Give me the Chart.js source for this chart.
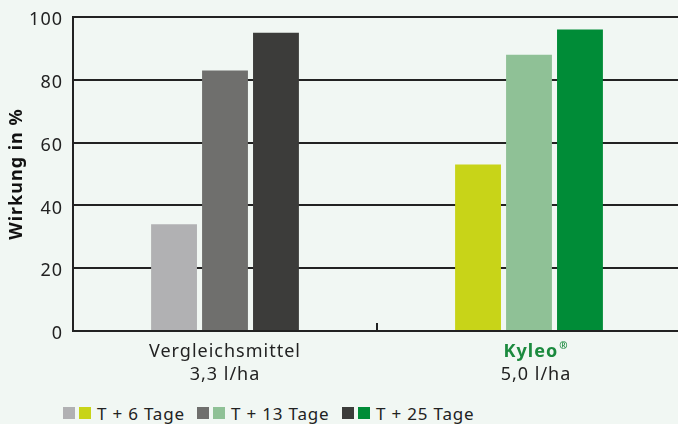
<!DOCTYPE html>
<html lang="de">
<head>
    <meta charset="UTF-8">
    <title>Wirkung in %</title>
    <script src="https://cdn.jsdelivr.net/npm/chart.js"></script>
    <style>
        html, body {
            margin: 0;
            padding: 0;
            width: 678px;
            height: 424px;
            overflow: hidden;
            background-color: #f1f7f3;
            font-family: 'Noto Sans', sans-serif;
        }
        .wrap {
            position: relative;
            width: 678px;
            height: 424px;
            overflow: hidden;
        }
        canvas {
            position: absolute;
            left: 0;
            top: 0;
        }
        .legend .item {
            position: absolute;
            top: 401px;
            height: 24px;
            display: flex;
            align-items: center;
            font-size: 17px;
            letter-spacing: 0.8px;
            color: #222;
            white-space: nowrap;
        }
        .legend .box {
            width: 12px;
            height: 12px;
            margin-right: 4px;
        }
        .legend .box + .box {
            margin-right: 6px;
        }
    </style>
</head>
<body>
<div class="wrap">
    <canvas id="chart" width="681" height="396"></canvas>
    <div class="legend" id="legend"></div>
</div>
<script>
    // Daten
    const categories = [['Vergleichsmittel', '3,3 l/ha'], ['Kyleo', '5,0 l/ha']];
    const seriesNames = ['T + 6 Tage', 'T + 13 Tage', 'T + 25 Tage'];
    const t6 = [34, 53];
    const t13 = [83, 88];
    const t25 = [95, 96];
    const yTicks = [0, 20, 40, 60, 80, 100];

    const greys = ['#b1b1b3', '#6f6f6d', '#3c3c3a'];
    const greens = ['#c8d418', '#8fc196', '#008c37'];
    const labelGreen = '#1b8a3e';
    const legendLeft = [63, 197, 342];

    const values = [t6, t13, t25];

    const spacing = {
        id: 'spacing',
        beforeDraw(chart) { chart.ctx.letterSpacing = '1px'; }
    };

    // Beschriftung der x-Achse und kleiner Mittelstrich
    const xLabels = {
        id: 'xLabels',
        afterDraw(chart) {
            const ctx = chart.ctx;
            const x = chart.scales.x;
            const area = chart.chartArea;
            ctx.save();
            ctx.letterSpacing = '1px';
            ctx.strokeStyle = '#222';
            ctx.lineWidth = 2;
            const mid = (x.getPixelForValue(0) + x.getPixelForValue(1)) / 2;
            ctx.beginPath();
            ctx.moveTo(mid, area.bottom - 8);
            ctx.lineTo(mid, area.bottom);
            ctx.stroke();

            ctx.textBaseline = 'middle';
            categories.forEach((lines, i) => {
                const px = x.getPixelForValue(i) + (i === 1 ? 7 : 0);
                ctx.textAlign = 'center';
                if (i === 1) {
                    ctx.font = 'bold 18px "Noto Sans"';
                    ctx.fillStyle = labelGreen;
                    const w = ctx.measureText(lines[0]).width;
                    ctx.font = 'bold 10px "Noto Sans"';
                    const r = ctx.measureText('®').width;
                    const start = px - (w + r + 1) / 2;
                    ctx.textAlign = 'left';
                    ctx.font = 'bold 18px "Noto Sans"';
                    ctx.fillText(lines[0], start, area.bottom + 21);
                    ctx.font = 'bold 10px "Noto Sans"';
                    ctx.fillText('®', start + w + 1, area.bottom + 15);
                    ctx.textAlign = 'center';
                } else {
                    ctx.font = '18px "Noto Sans"';
                    ctx.fillStyle = '#222';
                    ctx.fillText(lines[0], px, area.bottom + 21);
                }
                ctx.font = '18px "Noto Sans"';
                ctx.fillStyle = '#222';
                ctx.fillText(lines[1], px, area.bottom + 44);
            });
            ctx.restore();
        }
    };

    new Chart(document.getElementById('chart'), {
        type: 'bar',
        data: {
            labels: categories.map(c => c[0]),
            datasets: seriesNames.map((name, i) => ({
                label: name,
                data: values[i],
                backgroundColor: [greys[i], greens[i]],
                borderWidth: 0,
                barPercentage: 0.9,
                categoryPercentage: 0.503
            }))
        },
        options: {
            responsive: false,
            animation: false,
            layout: {
                padding: { top: 17, right: 0, bottom: 0, left: 0 }
            },
            plugins: {
                legend: { display: false },
                tooltip: { enabled: false }
            },
            scales: {
                x: {
                    grid: { display: false },
                    border: { display: true, color: '#222', width: 2 },
                    ticks: { display: false },
                    afterFit(scale) { scale.height = 65; }
                },
                y: {
                    min: 0,
                    max: 100,
                    afterBuildTicks(scale) {
                        scale.ticks = yTicks.map(v => ({ value: v }));
                    },
                    grid: { color: '#222', lineWidth: 2, drawTicks: false },
                    border: { display: true, color: '#222', width: 2 },
                    ticks: {
                        padding: 10,
                        labelOffset: 3,
                        color: '#222',
                        font: { family: 'Noto Sans', size: 18 }
                    },
                    title: {
                        display: true,
                        text: 'Wirkung in %',
                        color: '#111',
                        font: { family: 'Noto Sans', size: 18, weight: 'bold' },
                        padding: { top: 6, bottom: 0 }
                    },
                    afterFit(scale) {
                        scale.width = 73;
                        scale.paddingTop = 0;
                        scale.paddingBottom = 0;
                    }
                }
            }
        },
        plugins: [spacing, xLabels]
    });

    const legend = document.getElementById('legend');
    seriesNames.forEach((name, i) => {
        const item = document.createElement('div');
        item.className = 'item';
        item.style.left = legendLeft[i] + 'px';
        item.innerHTML = '<span class="box" style="background:' + greys[i] + '"></span>' +
            '<span class="box" style="background:' + greens[i] + '"></span>' +
            '<span>' + name + '</span>';
        legend.appendChild(item);
    });
</script>
</body>
</html>
